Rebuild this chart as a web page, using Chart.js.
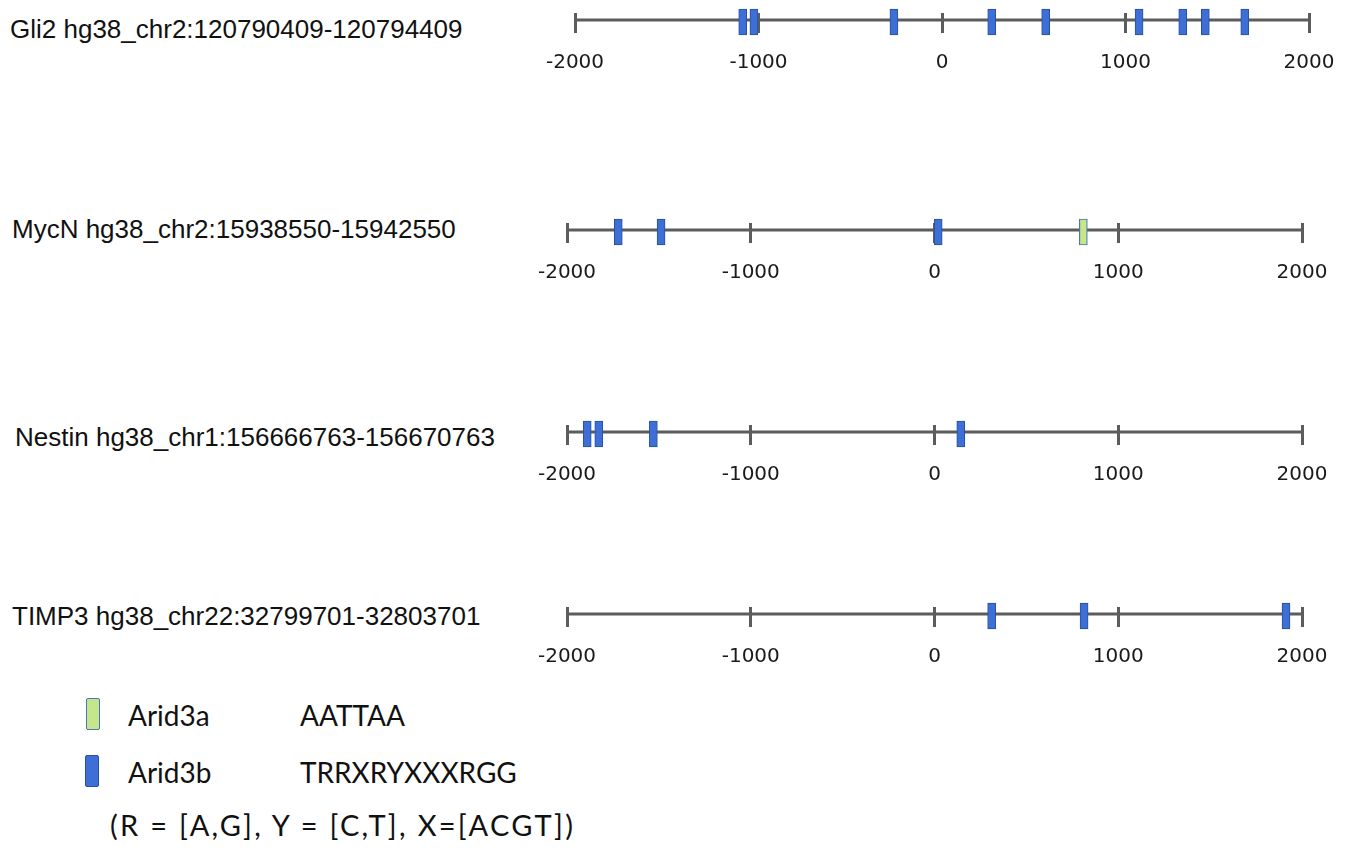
<!DOCTYPE html>
<html>
<head>
<meta charset="utf-8">
<script src="https://cdn.jsdelivr.net/npm/chart.js@4"></script>
<style>
  html, body { margin:0; padding:0; background:#fff; }
  body { width:1350px; height:849px; position:relative; overflow:hidden; }
  .trk { position:absolute; font-family:"Liberation Sans", Arial, sans-serif; font-size:26px; line-height:26px; color:#111; white-space:nowrap; }
  .cv { position:absolute; }
  .leg { position:absolute; font-family:Lato, "Open Sans", sans-serif; font-size:28px; line-height:28px; color:#111; white-space:nowrap; }
  .note { font-size:29px; letter-spacing:2.3px; }
  .box { position:absolute; width:14px; height:32px; box-sizing:border-box; border:1.5px solid; border-radius:2px; }
</style>
</head>
<body>
<script>
// ---------- data ----------
const geneNames   = ['Gli2', 'MycN', 'Nestin', 'TIMP3'];
const geneRegions = ['hg38_chr2:120790409-120794409', 'hg38_chr2:15938550-15942550',
                     'hg38_chr1:156666763-156670763', 'hg38_chr22:32799701-32803701'];
const gli2Arid3b   = [-1086, -1025, -262, 271, 565, 1074, 1312, 1435, 1650];
const gli2Arid3a   = [];
const mycnArid3b   = [-1721, -1488, 20];
const mycnArid3a   = [810];
const nestinArid3b = [-1890, -1827, -1530, 143];
const nestinArid3a = [];
const timp3Arid3b  = [311, 814, 1913];
const timp3Arid3a  = [];
const tickValues   = [-2000, -1000, 0, 1000, 2000];
const legendNames  = ['Arid3a', 'Arid3b'];
const legendMotifs = ['AATTAA', 'TRRXRYXXXRGG'];
const legendNote   = '(R = [A,G], Y = [C,T], X=[ACGT])';

const arid3bByGene = [gli2Arid3b, mycnArid3b, nestinArid3b, timp3Arid3b];
const arid3aByGene = [gli2Arid3a, mycnArid3a, nestinArid3a, timp3Arid3a];

// ---------- layout / style ----------
const layout = [
  { lineY: 20,    left: 575, right: 1309, labelX: 10, labelBase: 38 },
  { lineY: 229.5, left: 567, right: 1302, labelX: 12, labelBase: 238 },
  { lineY: 432,   left: 567, right: 1302, labelX: 15, labelBase: 445.5 },
  { lineY: 613.5, left: 567, right: 1302, labelX: 12, labelBase: 625 }
];
const PAD_LR = 60, PAD_TOP = 20, AREA_H = 20, AXIS_H = 50, PAD_BOTTOM = 5;
const LINE_Y = 13;            // track line inside 0..20 y-range
const BOX_LO = -2, BOX_HI = 24;
const BLUE = '#3d6fd6', BLUE_EDGE = '#27509e';
const GREEN = '#c6e68a', GREEN_EDGE = '#4a74bc';
const LINE_COLOR = '#5c5c5c';

layout.forEach((L, i) => {
  const lab = document.createElement('div');
  lab.className = 'trk';
  lab.textContent = geneNames[i] + ' ' + geneRegions[i];
  lab.style.left = L.labelX + 'px';
  lab.style.top = (L.labelBase - 22) + 'px';
  document.body.appendChild(lab);

  const w = (L.right - L.left) + 2 * PAD_LR;
  const h = PAD_TOP + AREA_H + AXIS_H + PAD_BOTTOM;
  const cv = document.createElement('canvas');
  cv.className = 'cv';
  cv.width = w; cv.height = h;
  cv.style.width = w + 'px'; cv.style.height = h + 'px';
  cv.style.left = (L.left - PAD_LR) + 'px';
  cv.style.top = (L.lineY - 7 - PAD_TOP) + 'px';
  document.body.appendChild(cv);

  const boxData = arr => arr.map(p => ({ x: p, y: [BOX_LO, BOX_HI] }));

  new Chart(cv, {
    data: {
      datasets: [
        { type: 'line', label: 'track', order: 3,
          data: [{ x: tickValues[0], y: LINE_Y }, { x: tickValues[tickValues.length - 1], y: LINE_Y }],
          borderColor: LINE_COLOR, borderWidth: 3, pointRadius: 0, clip: false },
        { type: 'bar', label: 'Arid3b', order: 1, grouped: false,
          data: boxData(arid3bByGene[i]),
          backgroundColor: BLUE, borderColor: BLUE_EDGE, borderWidth: 1,
          borderSkipped: false, barThickness: 8, clip: false },
        { type: 'bar', label: 'Arid3a', order: 1, grouped: false,
          data: boxData(arid3aByGene[i]),
          backgroundColor: GREEN, borderColor: GREEN_EDGE, borderWidth: 1.2,
          borderSkipped: false, barThickness: 8, clip: false }
      ]
    },
    options: {
      responsive: false,
      animation: false,
      devicePixelRatio: 1,
      events: [],
      layout: { padding: { left: PAD_LR, right: PAD_LR, top: PAD_TOP, bottom: PAD_BOTTOM } },
      plugins: { legend: { display: false }, tooltip: { enabled: false } },
      scales: {
        x: {
          type: 'linear', offset: false,
          min: tickValues[0], max: tickValues[tickValues.length - 1],
          afterBuildTicks: s => { s.ticks = tickValues.map(v => ({ value: v })); },
          afterFit: s => { s.height = AXIS_H; },
          border: { display: false },
          grid: { display: true, offset: false, drawOnChartArea: true, drawTicks: false, color: LINE_COLOR, lineWidth: 3 },
          ticks: { padding: 18, color: '#1a1a1a', font: { family: 'DejaVu Sans', size: 20 },
                   maxRotation: 0, autoSkip: false, callback: v => String(v) }
        },
        y: { type: 'linear', min: 0, max: AREA_H, display: false }
      }
    }
  });
});

// ---------- legend ----------
const legRows = [
  { boxTop: 698, textTop: 701, fill: GREEN, edge: GREEN_EDGE, x: 86 },
  { boxTop: 755, textTop: 758, fill: BLUE, edge: BLUE_EDGE, x: 85 }
];
legRows.forEach((r, i) => {
  const b = document.createElement('div');
  b.className = 'box';
  b.style.left = r.x + 'px'; b.style.top = r.boxTop + 'px';
  b.style.background = r.fill; b.style.borderColor = r.edge;
  document.body.appendChild(b);
  const t1 = document.createElement('div');
  t1.className = 'leg'; t1.textContent = legendNames[i];
  t1.style.left = '128px'; t1.style.top = r.textTop + 'px';
  document.body.appendChild(t1);
  const t2 = document.createElement('div');
  t2.className = 'leg'; t2.textContent = legendMotifs[i];
  t2.style.left = '300px'; t2.style.top = r.textTop + 'px';
  document.body.appendChild(t2);
});
const note = document.createElement('div');
note.className = 'leg note'; note.textContent = legendNote;
note.style.left = '110px'; note.style.top = '811px';
document.body.appendChild(note);
</script>
</body>
</html>
